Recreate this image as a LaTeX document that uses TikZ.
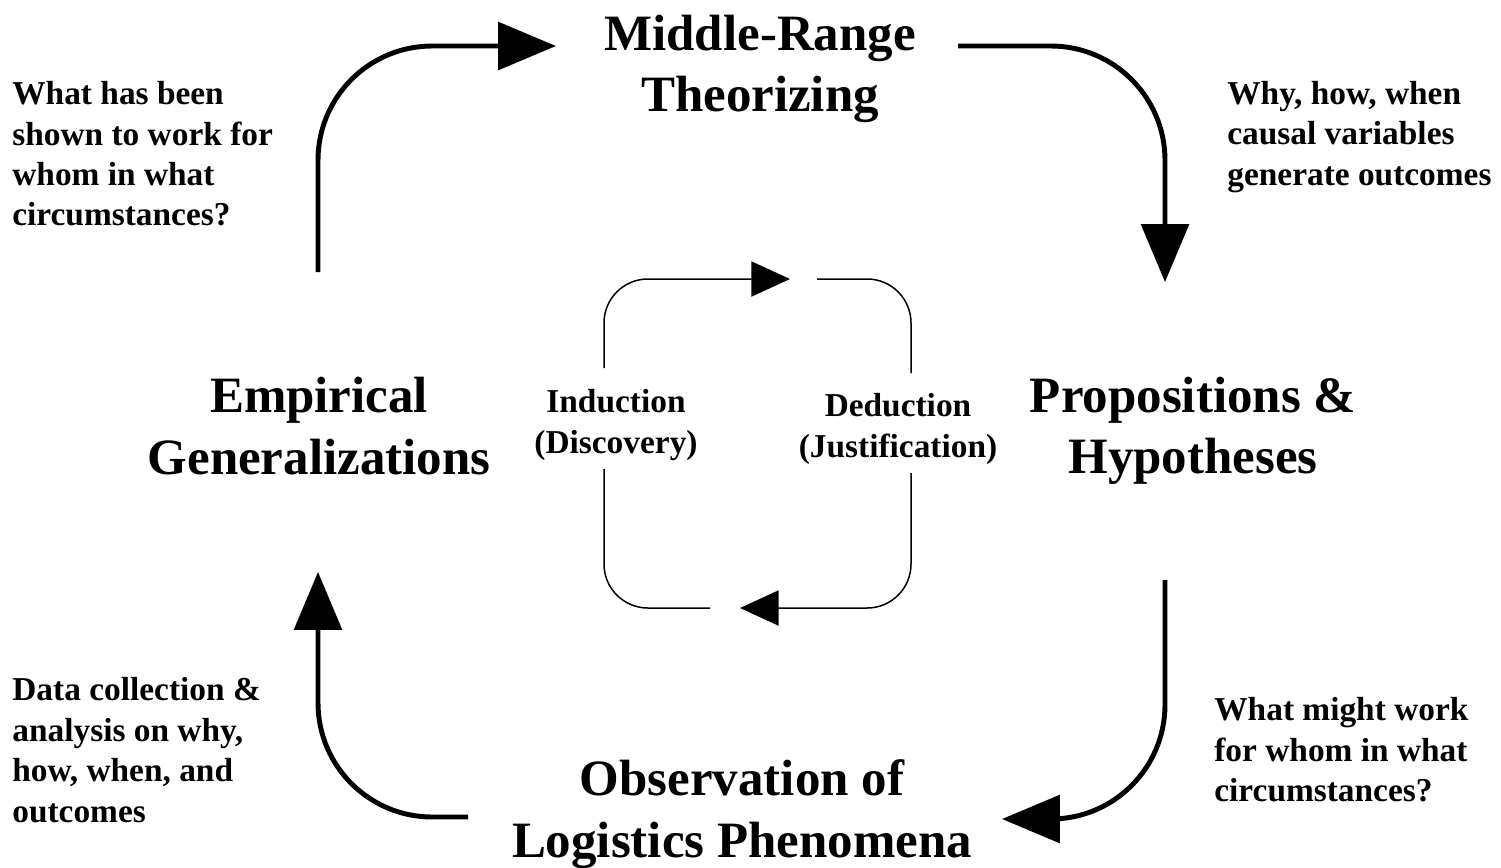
\documentclass[tikz,border=0pt]{standalone}
\usepackage{fontspec}
\setmainfont{Liberation Serif}
\usetikzlibrary{arrows.meta}

\begin{document}
\begin{tikzpicture}[x=0.02cm,y=-0.02cm,
	big/.style={align=center,inner sep=0pt,font=\fontsize{29}{35}\selectfont\bfseries},
	small/.style={align=left,inner sep=0pt,anchor=west,font=\fontsize{19}{23}\selectfont\bfseries},
	mid/.style={align=center,inner sep=0pt,font=\fontsize{19}{23}\selectfont\bfseries},
	bigarrow/.style={-{Triangle[length=33pt,width=27pt]},line width=2.8pt,rounded corners=65pt},
	smallarrow/.style={-{Triangle[length=22pt,width=20pt]},line width=0.85pt,rounded corners=25pt},
	loopline/.style={line width=0.85pt,rounded corners=25pt}]
	
	\useasboundingbox (0,0) rectangle (1501,867);
	
	\node[big] (mrt) at (760,69) {Middle-Range\\Theorizing};
	\node[big] (emp) at (319,426) {Empirical\\Generalizations};
	\node[big] (prop) at (1193,431) {Propositions \&\\Hypotheses};
	\node[big] (obs) at (742,814) {Observation of\\Logistics Phenomena};
	
	\node[small] (shown) at (12,154) {What has been\\shown to work for\\whom in what\\circumstances?};
	\node[small] (why) at (1227,137) {Why, how, when\\causal variables\\generate outcomes};
	\node[small] (data) at (12,750) {Data collection \&\\analysis on why,\\how, when, and\\outcomes};
	\node[small] (might) at (1214,750) {What might work\\for whom in what\\circumstances?};
	
	\node[mid] (ind) at (616,425) {Induction\\(Discovery)};
	\node[mid] (ded) at (898,429) {Deduction\\(Justification)};
	
	\coordinate (emp-up) at (318,272);
	\coordinate (mrt-in) at (556,46);
	\coordinate (mrt-out) at (958,46);
	\coordinate (prop-in) at (1165,282);
	\coordinate (prop-out) at (1165,580);
	\coordinate (obs-in) at (1002,819);
	\coordinate (obs-out) at (468,817);
	\coordinate (emp-in) at (318,572);
	
	\draw[bigarrow] (emp-up) |- (mrt-in);
	\draw[bigarrow] (mrt-out) -| (prop-in);
	\draw[bigarrow] (prop-out) |- (obs-in);
	\draw[bigarrow] (obs-out) -| (emp-in);
	
	\coordinate (ind-up) at (604,368);
	\coordinate (top-in) at (790,279);
	\coordinate (top-out) at (817,279);
	\coordinate (ded-in) at (911,373);
	\coordinate (ded-out) at (911,473);
	\coordinate (bot-in) at (740,608);
	\coordinate (bot-out) at (710,608);
	\coordinate (ind-in) at (604,469);
	
	\draw[smallarrow] (ind-up) |- (top-in);
	\draw[loopline] (top-out) -| (ded-in);
	\draw[smallarrow] (ded-out) |- (bot-in);
	\draw[loopline] (bot-out) -| (ind-in);
	
\end{tikzpicture}
\end{document}
